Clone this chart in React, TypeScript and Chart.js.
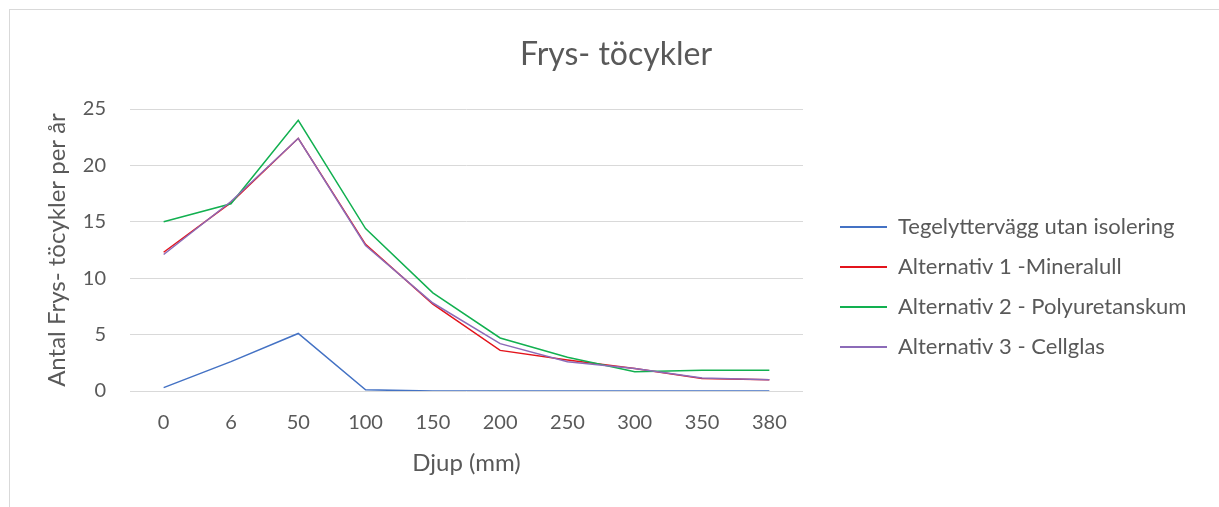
import React, { useEffect, useRef } from 'react';
import { Chart, registerables } from 'chart.js';

Chart.register(...registerables);

// ---------- data ----------
const categories = ['0', '6', '50', '100', '150', '200', '250', '300', '350', '380'];
const tegelytterVagg = [0.3, 2.6, 5.1, 0.1, 0, 0, 0, 0, 0, 0];
const alternativ1 = [12.3, 16.7, 22.4, 13.0, 7.7, 3.6, 2.75, 2.0, 1.1, 1.0];
const alternativ2 = [15.0, 16.6, 24.0, 14.4, 8.7, 4.7, 3.0, 1.7, 1.85, 1.85];
const alternativ3 = [12.1, 16.8, 22.4, 12.9, 7.8, 4.2, 2.6, 2.0, 1.15, 1.0];
const seriesLabels = [
  'Tegelyttervägg utan isolering',
  'Alternativ 1 -Mineralull',
  'Alternativ 2 - Polyuretanskum',
  'Alternativ 3 - Cellglas',
];
const yMin = 0;
const yMax = 25;
const yStep = 5;
const chartTitle = 'Frys- töcykler';
const xAxisTitle = 'Djup (mm)';
const yAxisTitle = 'Antal Frys- töcykler per år';

// ---------- style ----------
const W = 1219;
const H = 507;
const FONT = 'Lato';
const TEXT = '#595959';
const GRID = '#d9d9d9';
const COLORS = ['#4472C4', '#E3141C', '#12B050', '#8C6BB8'];
const PLOT_LEFT = 130;
const PLOT_RIGHT = 803;
const PLOT_TOP = 109;
const PLOT_BOTTOM = 391;
const TICK_FONT = 20;
const TITLE_FONT = 32;
const AXIS_TITLE_FONT = 24;
const LEGEND_FONT = 22;
const LEGEND_PAD = 18;
const ICON_W = 66;
const ICON_LINE = 47;

function makeIcon(color: string) {
  const c = document.createElement('canvas');
  c.width = ICON_W;
  c.height = 2;
  const ctx = c.getContext('2d')!;
  ctx.fillStyle = color;
  ctx.fillRect(ICON_W - ICON_LINE, 0, ICON_LINE, 2);
  return c;
}

export default function App() {
  const ref = useRef<HTMLCanvasElement | null>(null);

  useEffect(() => {
    const canvas = ref.current;
    if (!canvas) return;

    // measure legend text to place the legend box right after the plot area
    const mctx = document.createElement('canvas').getContext('2d')!;
    mctx.font = `${LEGEND_FONT}px ${FONT}`;
    const maxText = Math.max(...seriesLabels.map((t) => mctx.measureText(t).width));
    const legendW = LEGEND_PAD + ICON_W + LEGEND_FONT / 2 + maxText + 10;
    const padRight = W - PLOT_RIGHT - legendW;
    const padLeft = Math.max(0, 13 + padRight);

    const icons = COLORS.map(makeIcon);
    const seriesValues = [tegelytterVagg, alternativ1, alternativ2, alternativ3];
    const titleLH = TITLE_FONT * 1.2;
    const axisLH = AXIS_TITLE_FONT * 1.2;

    const chart = new Chart(canvas, {
      type: 'line',
      data: {
        labels: categories,
        datasets: seriesValues.map((vals, i) => ({
          label: seriesLabels[i],
          data: vals,
          borderColor: COLORS[i],
          backgroundColor: COLORS[i],
          borderWidth: 1.5,
          pointRadius: 0,
          tension: 0,
          fill: false,
          order: 4 - i,
        })),
      },
      options: {
        responsive: false,
        animation: false,
        layout: { padding: { left: padLeft, right: padRight, top: 0, bottom: 0 } },
        plugins: {
          tooltip: { enabled: false },
          title: {
            display: true,
            text: chartTitle,
            color: TEXT,
            font: { family: FONT, size: TITLE_FONT, weight: 'normal' },
            padding: { top: 55 - titleLH / 2, bottom: PLOT_TOP - (55 + titleLH / 2) },
          },
          legend: {
            position: 'right',
            maxWidth: 5000,
            title: { display: true, text: ' ', font: { size: 10, lineHeight: 1 }, padding: { top: 57, bottom: 0 } },
            labels: {
              color: TEXT,
              font: { family: FONT, size: LEGEND_FONT },
              padding: LEGEND_PAD,
              usePointStyle: true,
              pointStyleWidth: ICON_W,
              generateLabels: (ch: any) =>
                ch.data.datasets.map((ds: any, i: number) => ({
                  text: ds.label,
                  fillStyle: ds.borderColor,
                  strokeStyle: ds.borderColor,
                  lineWidth: 0,
                  hidden: false,
                  datasetIndex: i,
                  pointStyle: icons[i],
                  fontColor: TEXT,
                })),
            },
          },
        },
        scales: {
          x: {
            type: 'category',
            offset: true,
            grid: { display: false, drawTicks: false },
            border: { display: false },
            ticks: { color: TEXT, font: { family: FONT, size: TICK_FONT }, padding: 20, maxRotation: 0 },
            title: {
              display: true,
              text: xAxisTitle,
              color: TEXT,
              font: { family: FONT, size: AXIS_TITLE_FONT },
              padding: { top: 0, bottom: 44 - axisLH / 2 },
            },
            afterFit: (s: any) => {
              s.height = H - PLOT_BOTTOM;
            },
          },
          y: {
            min: yMin,
            max: yMax,
            ticks: { stepSize: yStep, color: TEXT, font: { family: FONT, size: TICK_FONT }, padding: 24 },
            grid: { color: GRID, lineWidth: 1, drawTicks: false },
            border: { display: false },
            title: {
              display: true,
              text: yAxisTitle,
              color: TEXT,
              font: { family: FONT, size: AXIS_TITLE_FONT },
              padding: { top: 57.5 - padLeft - axisLH / 2, bottom: 0 },
            },
            afterFit: (s: any) => {
              s.width = PLOT_LEFT - padLeft;
            },
          },
        },
      },
    });
    return () => chart.destroy();
  }, []);

  return (
    <div style={{ position: 'fixed', left: 0, top: 0, width: W, height: H, overflow: 'hidden', background: '#fff' }}>
      <div
        style={{
          position: 'absolute',
          left: 9,
          top: 9,
          width: W + 100,
          height: H + 100,
          border: `1px solid ${GRID}`,
        }}
      />
      <canvas ref={ref} width={W} height={H} style={{ position: 'absolute', left: 0, top: 0, width: W, height: H }} />
    </div>
  );
}
